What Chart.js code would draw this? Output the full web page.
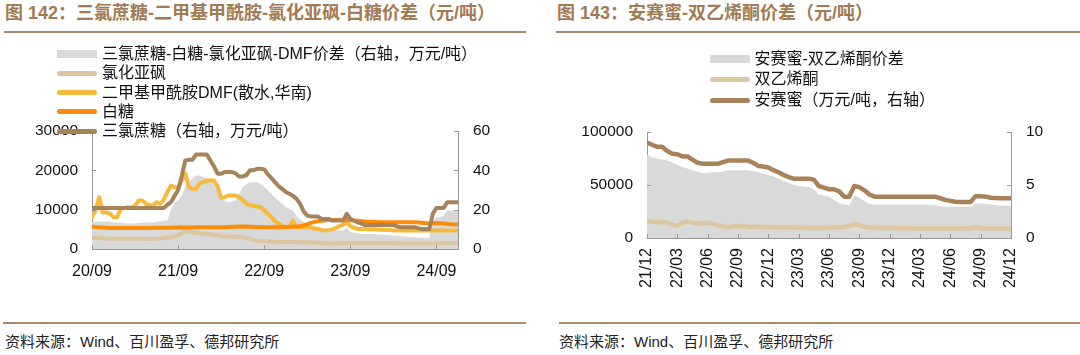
<!DOCTYPE html>
<html><head><meta charset="utf-8">
<script src="https://cdn.jsdelivr.net/npm/chart.js@4.4.1/dist/chart.umd.min.js"></script>
<style>
body{margin:0;background:#fff;width:1080px;height:355px;overflow:hidden;position:relative;font-family:"Liberation Sans","Noto Sans CJK SC",sans-serif;}
.abs{position:absolute;}
.title{font-size:18px;font-weight:bold;color:#a27a53;line-height:22px;white-space:nowrap;}
.rule{height:2px;background:#a98a6c;}
.lg{font-size:16px;line-height:20px;color:#111;white-space:nowrap;}
.foot{font-size:15px;line-height:20px;color:#222;white-space:nowrap;letter-spacing:0px;}
canvas{position:absolute;top:0;}
</style></head><body>

<div class="abs title" style="left:5px;top:2px;">图 142：三氯蔗糖-二甲基甲酰胺-氯化亚砜-白糖价差（元/吨）</div>
<div class="abs rule" style="left:4px;top:31px;width:522px;"></div>
<div class="abs title" style="left:557px;top:2px;">图 143：安赛蜜-双乙烯酮价差（元/吨）</div>
<div class="abs rule" style="left:556px;top:31px;width:524px;"></div>

<canvas id="c1" width="540" height="300" style="left:0px;"></canvas>
<canvas id="c2" width="540" height="300" style="left:540px;"></canvas>

<div id="legend1"></div>
<div id="legend2"></div>

<div class="abs rule" style="left:3px;top:322px;width:523px;"></div>
<div class="abs rule" style="left:559px;top:322px;width:521px;"></div>
<div class="abs foot" style="left:5px;top:332px;">资料来源：Wind、百川盈孚、德邦研究所</div>
<div class="abs foot" style="left:559px;top:332px;">资料来源：Wind、百川盈孚、德邦研究所</div>

<script>
// ---------------- Chart 142 data (half-month steps from 20/09, except monthly series) ----------------
const leftXTicks = ['20/09','21/09','22/09','23/09','24/09'];
// 三氯蔗糖 (万元/吨, right axis) — half-month
const sucralose = [
20.8,20.8,20.8,20.8,20.8,20.8,20.8,20.8,20.8,20.8,20.8,20.8,20.8,20.8,20.8,20.8,20.8,20.8,20.8,20.8,20.8,
22.5,23.8,27,30,37,45,45.4,45.4,48,48.1,
48.1,48.1,45,42,38.3,38.3,39.1,39.1,39.1,38.5,
36.9,36.9,37.5,40,40,40.8,40.8,40.5,38,36,
34,32,30.6,29,28.1,27,25.5,23,19,17,
16.5,16.5,16.5,15.3,15.3,15.3,14.5,14.5,14.5,14.5,
17.9,15.3,14.5,13.6,13,12.2,12.2,12.2,12.2,12.2,
12.2,12.2,12.2,12.2,11.5,11.05,11.05,11.05,11.05,11.05,
10.5,10.2,10.2,10.2,18,20.9,20.9,20.9,23.8,23.8,
23.8,23.8];
// 三氯蔗糖-白糖-氯化亚砜-DMF价差 (万元/吨, right axis) — half-month
const spread1 = [
13.5,13.8,14,14,14,13.8,13.5,13.3,13.3,13.2,13,13,13,13.2,13.3,13.5,13.5,13.5,13.8,14,14.5,
14.5,20,23.5,24.7,27,32,34,36,37.4,37.4,
36.5,35.7,35,34,30,26.4,24.5,23.8,24,24.7,
28,31.5,33,34,34,34,33,31.5,30,28,
26,24.7,23,21.3,20.5,19.6,17,15,13.6,12.5,
11.9,11.5,11,10.5,10.2,10,9.8,9.5,9.4,9.4,
11,8.5,8.2,7.9,7.6,7.6,7.6,7.6,7.5,7.4,
7.3,7.2,7.0,6.9,6.8,6.6,6.4,6.2,6.1,6.0,
5.8,5.7,5.6,5.6,14.5,16.2,16.2,17,19.6,19.6,
19.6,19.6];
// 二甲基甲酰胺DMF (元/吨) — half-month
const dmf = [
8100,9800,13200,9300,9300,9000,8100,8100,10200,10400,10600,10600,11000,12300,12300,11500,11200,11000,11900,11500,12500,
14500,16100,15700,15700,17400,19100,15700,15300,15300,16600,
17000,17400,17400,17400,16000,13000,13200,13600,13600,13600,
13200,12500,11500,11200,11000,10800,10600,9800,9000,8100,
7000,6500,5900,5600,5500,7200,5500,5600,5500,5500,
5400,5200,5100,4800,4700,4800,5000,5400,5800,6200,
6800,5800,5400,5100,5100,5100,5000,5000,5000,4900,
4900,4800,4800,4700,4700,4700,4700,4700,4700,4700,
4700,4700,4700,4700,4700,4700,4700,4700,4700,4700,
4700,4700];
// 白糖 (元/吨) — monthly
const sugar = [
5700,5500,5400,5350,5350,5350,5350,5350,5350,5400,
5400,5400,5450,5450,5450,5500,5500,5500,5550,5600,
5650,5700,5650,5600,5550,5500,5550,5600,5650,5800,
6300,6900,7200,7400,7400,7400,7300,7200,7000,6900,
6800,6800,6800,6800,6800,6800,6700,6500,6600,6500,
6300,6200];
// 氯化亚砜 (元/吨) — monthly
const socl2 = [
2800,2800,2700,2600,2600,2600,2600,2550,2550,2600,
2800,3000,3400,4600,4200,4000,3800,3600,3300,3200,
3100,3000,2600,2100,2000,1900,1800,1800,1800,1700,
1700,1600,1500,1400,1400,1500,1500,1500,1500,1500,
1500,1500,1500,1400,1400,1400,1400,1400,1400,1500,
1500,1600];

// ---------------- Chart 143 data (half-month steps from 21/12) ----------------
const rightXTicks = ['21/12','22/03','22/06','22/09','22/12','23/03','23/06','23/09','23/12','24/03','24/06','24/09','24/12'];
// 安赛蜜 (万元/吨, right axis)
const acesulfame = [
9.0,8.8,8.6,8.6,8.2,7.95,7.9,7.7,7.7,7.4,
7.1,7.0,7.0,7.0,7.0,7.15,7.3,7.3,7.3,7.3,
7.3,7.1,6.8,6.75,6.65,6.4,6.2,5.95,5.75,5.6,
5.6,5.6,5.6,5.5,4.9,4.75,4.6,4.6,4.4,3.9,
3.9,4.9,4.8,4.5,4.1,
3.9,3.9,3.9,3.9,3.9,3.9,3.9,3.9,3.9,3.9,3.9,3.9,3.9,
3.75,3.6,3.5,3.42,3.4,3.4,3.4,3.95,3.95,3.9,3.8,3.78,3.75,3.75,3.75];
// 安赛蜜-双乙烯酮价差 (元/吨)
const spread2 = [
78500,76000,75000,74000,73000,71000,69000,67000,65500,64000,
62500,61000,61500,62000,62000,62500,64000,64000,64000,64000,
64000,63000,62000,60500,59500,58000,56000,54000,52000,50000,
49000,48500,48000,46000,41000,40000,39000,36000,33000,31500,
31000,40500,38000,35000,32000,
31600,31600,31600,31600,31600,31600,31600,31600,31600,31600,31600,31300,31000,
30000,29400,29400,29400,29400,29400,29400,32600,32600,32000,31500,31000,30600,30400,30400];
// 双乙烯酮 (元/吨)
const diketene = [
15800,15500,15200,14800,14600,12500,11400,14500,15200,14500,
13600,14000,14600,13500,12000,11000,10400,10800,11400,11000,
10400,10400,10400,10300,10200,10200,10000,10000,9800,9800,
9600,9600,9500,9500,9500,9500,9600,9800,10000,10400,
11500,12700,12500,10500,9800,9700,9600,9500,9500,9400,
9300,9200,9100,9000,9000,8900,8900,8900,8900,8900,
8900,8900,9000,9200,9500,9800,9400,9000,8900,8900,
8900,8900,8900];

// ---------------- styling ----------------
const AXIS = '#9a9a9a';
const C_GRAY = '#d9d9d9', C_TAN = '#dcc7a0', C_YEL = '#f7b93a', C_ORG = '#fa8c0a', C_BRN = '#a8825a';
const pts = (arr, step) => arr.map((v, i) => ({x: i * step, y: v}));
const plain = (v) => String(v);

const innerTicks = {
  id: 'innerTicks',
  afterDraw(chart) {
    const ctx = chart.ctx, a = chart.chartArea;
    ctx.save(); ctx.strokeStyle = AXIS; ctx.lineWidth = 1;
    Object.values(chart.scales).forEach(s => {
      s.ticks.forEach(t => {
        const p = Math.round(s.getPixelForValue(t.value)) + 0.5;
        ctx.beginPath();
        if (s.axis === 'x') { ctx.moveTo(p, a.bottom); ctx.lineTo(p, a.bottom - 4); }
        else if (s.position === 'left') { ctx.moveTo(a.left, p); ctx.lineTo(a.left + 4, p); }
        else { ctx.moveTo(a.right, p); ctx.lineTo(a.right - 4, p); }
        ctx.stroke();
      });
    });
    ctx.restore();
  }
};

const tickFont = (s) => ({family: '"Liberation Sans", Arial, sans-serif', size: s});
const baseGrid = {display: false, drawTicks: false};
const baseBorder = {display: true, color: AXIS, width: 1};
const lineDs = (label, data, color, axis, order, w) => ({
  type: 'line', label, data, yAxisID: axis, borderColor: color, borderWidth: w,
  pointRadius: 0, pointHoverRadius: 0, fill: false, tension: 0, order,
  borderJoinStyle: 'round', borderCapStyle: 'round'
});
const areaDs = (label, data, axis, order) => ({
  type: 'line', label, data, yAxisID: axis, borderColor: 'rgba(0,0,0,0)', borderWidth: 1,
  backgroundColor: C_GRAY, fill: 'origin', pointRadius: 0, tension: 0, order
});

new Chart(document.getElementById('c1'), {
  type: 'line',
  data: {datasets: [
    areaDs('三氯蔗糖-白糖-氯化亚砜-DMF价差（右轴，万元/吨）', pts(spread1, 0.5), 'yR', 5),
    lineDs('氯化亚砜', pts(socl2, 1), C_TAN, 'yL', 4, 4),
    lineDs('二甲基甲酰胺DMF(散水,华南)', pts(dmf, 0.5), C_YEL, 'yL', 3, 4),
    lineDs('白糖', pts(sugar, 1), C_ORG, 'yL', 2, 4),
    lineDs('三氯蔗糖（右轴，万元/吨）', pts(sucralose, 0.5), C_BRN, 'yR', 1, 4)
  ]},
  options: {
    responsive: false, animation: false, devicePixelRatio: 1,
    layout: {padding: {top: 131, bottom: 11, left: 0, right: 0}},
    plugins: {legend: {display: false}, tooltip: {enabled: false}},
    scales: {
      x: {type: 'linear', min: 0, max: 51,
        afterBuildTicks(s) { s.ticks = [0, 12, 24, 36, 48].map(v => ({value: v})); },
        ticks: {autoSkip: false, maxRotation: 0, minRotation: 0, padding: 13, color: '#111', font: tickFont(16),
          callback: (v) => leftXTicks[Math.round(v / 12)]},
        grid: baseGrid, border: baseBorder, afterFit(s) { s.height = 40; }},
      yL: {position: 'left', min: 0, max: 30000,
        ticks: {stepSize: 10000, padding: 14, color: '#111', font: tickFont(15.5), callback: plain},
        grid: baseGrid, border: baseBorder, afterFit(s) { s.width = 92; }},
      yR: {position: 'right', min: 0, max: 60,
        ticks: {stepSize: 20, padding: 15, color: '#111', font: tickFont(15.5), callback: plain},
        grid: baseGrid, border: baseBorder, afterFit(s) { s.width = 82; }}
    }
  },
  plugins: [innerTicks]
});

new Chart(document.getElementById('c2'), {
  type: 'line',
  data: {datasets: [
    areaDs('安赛蜜-双乙烯酮价差', pts(spread2, 0.5), 'yL', 3),
    lineDs('双乙烯酮', pts(diketene, 0.5), C_TAN, 'yL', 2, 4.5),
    lineDs('安赛蜜（万元/吨，右轴）', pts(acesulfame, 0.5), C_BRN, 'yR', 1, 4.5)
  ]},
  options: {
    responsive: false, animation: false, devicePixelRatio: 1,
    layout: {padding: {top: 132, bottom: 12, left: 0, right: 0}},
    plugins: {legend: {display: false}, tooltip: {enabled: false}},
    scales: {
      x: {type: 'linear', min: 0, max: 36,
        afterBuildTicks(s) { s.ticks = rightXTicks.map((_, i) => ({value: i * 3})); },
        ticks: {autoSkip: false, maxRotation: 90, minRotation: 90, padding: 10, color: '#111', font: tickFont(16),
          callback: (v) => rightXTicks[Math.round(v / 3)]},
        grid: baseGrid, border: baseBorder, afterFit(s) { s.height = 50; }},
      yL: {position: 'left', min: 0, max: 100000,
        ticks: {stepSize: 50000, padding: 14, color: '#111', font: tickFont(15.5), callback: plain},
        grid: baseGrid, border: baseBorder, afterFit(s) { s.width = 107; }},
      yR: {position: 'right', min: 0, max: 10,
        ticks: {stepSize: 5, padding: 15, color: '#111', font: tickFont(15.5), callback: plain},
        grid: baseGrid, border: baseBorder, afterFit(s) { s.width = 69; }}
    }
  },
  plugins: [innerTicks]
});

// ---------------- legends (HTML) ----------------
function buildLegend(el, items, swLeft, txtLeft) {
  items.forEach(it => {
    const sw = document.createElement('div');
    sw.className = 'abs';
    if (it.rect) {
      sw.style.cssText = `left:${swLeft}px;top:${it.y - 4}px;width:40px;height:8px;background:${it.c};`;
    } else {
      sw.style.cssText = `left:${swLeft}px;top:${it.y - 2.5}px;width:40px;height:5px;border-radius:2.5px;background:${it.c};`;
    }
    const tx = document.createElement('div');
    tx.className = 'abs lg';
    tx.style.left = txtLeft + 'px';
    tx.style.top = (it.y - 10) + 'px';
    tx.textContent = it.t;
    el.appendChild(sw); el.appendChild(tx);
  });
}
buildLegend(document.getElementById('legend1'), [
  {t: '三氯蔗糖-白糖-氯化亚砜-DMF价差（右轴，万元/吨）', c: C_GRAY, rect: true, y: 54},
  {t: '氯化亚砜', c: C_TAN, y: 73},
  {t: '二甲基甲酰胺DMF(散水,华南)', c: C_YEL, y: 92.5},
  {t: '白糖', c: C_ORG, y: 111.5},
  {t: '三氯蔗糖（右轴，万元/吨）', c: C_BRN, y: 131}
], 57, 102);
buildLegend(document.getElementById('legend2'), [
  {t: '安赛蜜-双乙烯酮价差', c: C_GRAY, rect: true, y: 59},
  {t: '双乙烯酮', c: C_TAN, y: 79},
  {t: '安赛蜜（万元/吨，右轴）', c: C_BRN, y: 100}
], 710, 754.5);
</script>
</body></html>
